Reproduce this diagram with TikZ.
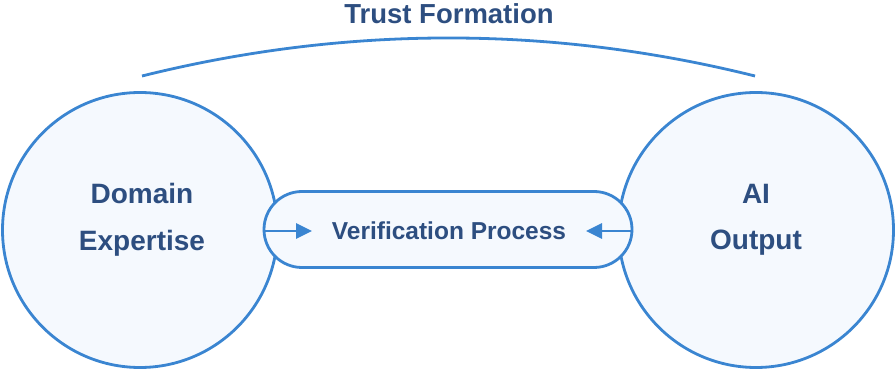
\documentclass[tikz,border=0pt]{standalone}
\usepackage{fontspec}
\setmainfont{Liberation Sans}
\usetikzlibrary{arrows.meta,shapes.misc}
\definecolor{lineblue}{HTML}{3A85D1}
\definecolor{textblue}{HTML}{2D4E80}
\definecolor{fillblue}{HTML}{F5F9FE}
\tikzset{
  bubble/.style={circle, draw=lineblue, line width=2.8pt, fill=fillblue, minimum size=275pt, inner sep=0pt},
  pill/.style={rounded rectangle, draw=lineblue, line width=2.8pt, fill=fillblue, minimum width=368pt, minimum height=76pt, inner sep=0pt},
  lbl/.style={text=textblue, font=\fontsize{24.5}{28}\selectfont\bfseries, align=center},
  biglbl/.style={text=textblue, font=\fontsize{28}{46.5}\selectfont\bfseries, align=center},
  conn/.style={draw=lineblue, line width=2.8pt, -{Triangle[length=16pt,width=15pt]}},
}
\begin{document}
\begin{tikzpicture}[x=1pt,y=-1pt]
\useasboundingbox (0,0) rectangle (895,371);
\node[bubble] (de) at (140,230) {};
\node[bubble] (ai) at (756,230) {};
\node[biglbl] (detext) at (142,220) {Domain\\Expertise};
\node[biglbl] (aitext) at (756,220) {AI\\Output};
\node[pill] (vp) at (448,229.5) {};
\node[lbl] (vptext) at (449,231) {Verification Process};
\coordinate (lt) at (312,231);
\coordinate (rt) at (586,231);
\draw[conn] (vp.west |- lt) -- (lt);
\draw[conn] (vp.east |- rt) -- (rt);
\coordinate (arcL) at (142,76);
\coordinate (arcR) at (755,76);
\draw[draw=lineblue, line width=2.8pt] (arcL) .. controls (346,25.3) and (551,25.3) .. (arcR);
\node[text=textblue, font=\fontsize{27.5}{30}\selectfont\bfseries] (tf) at (449,14) {Trust Formation};
\end{tikzpicture}
\end{document}
